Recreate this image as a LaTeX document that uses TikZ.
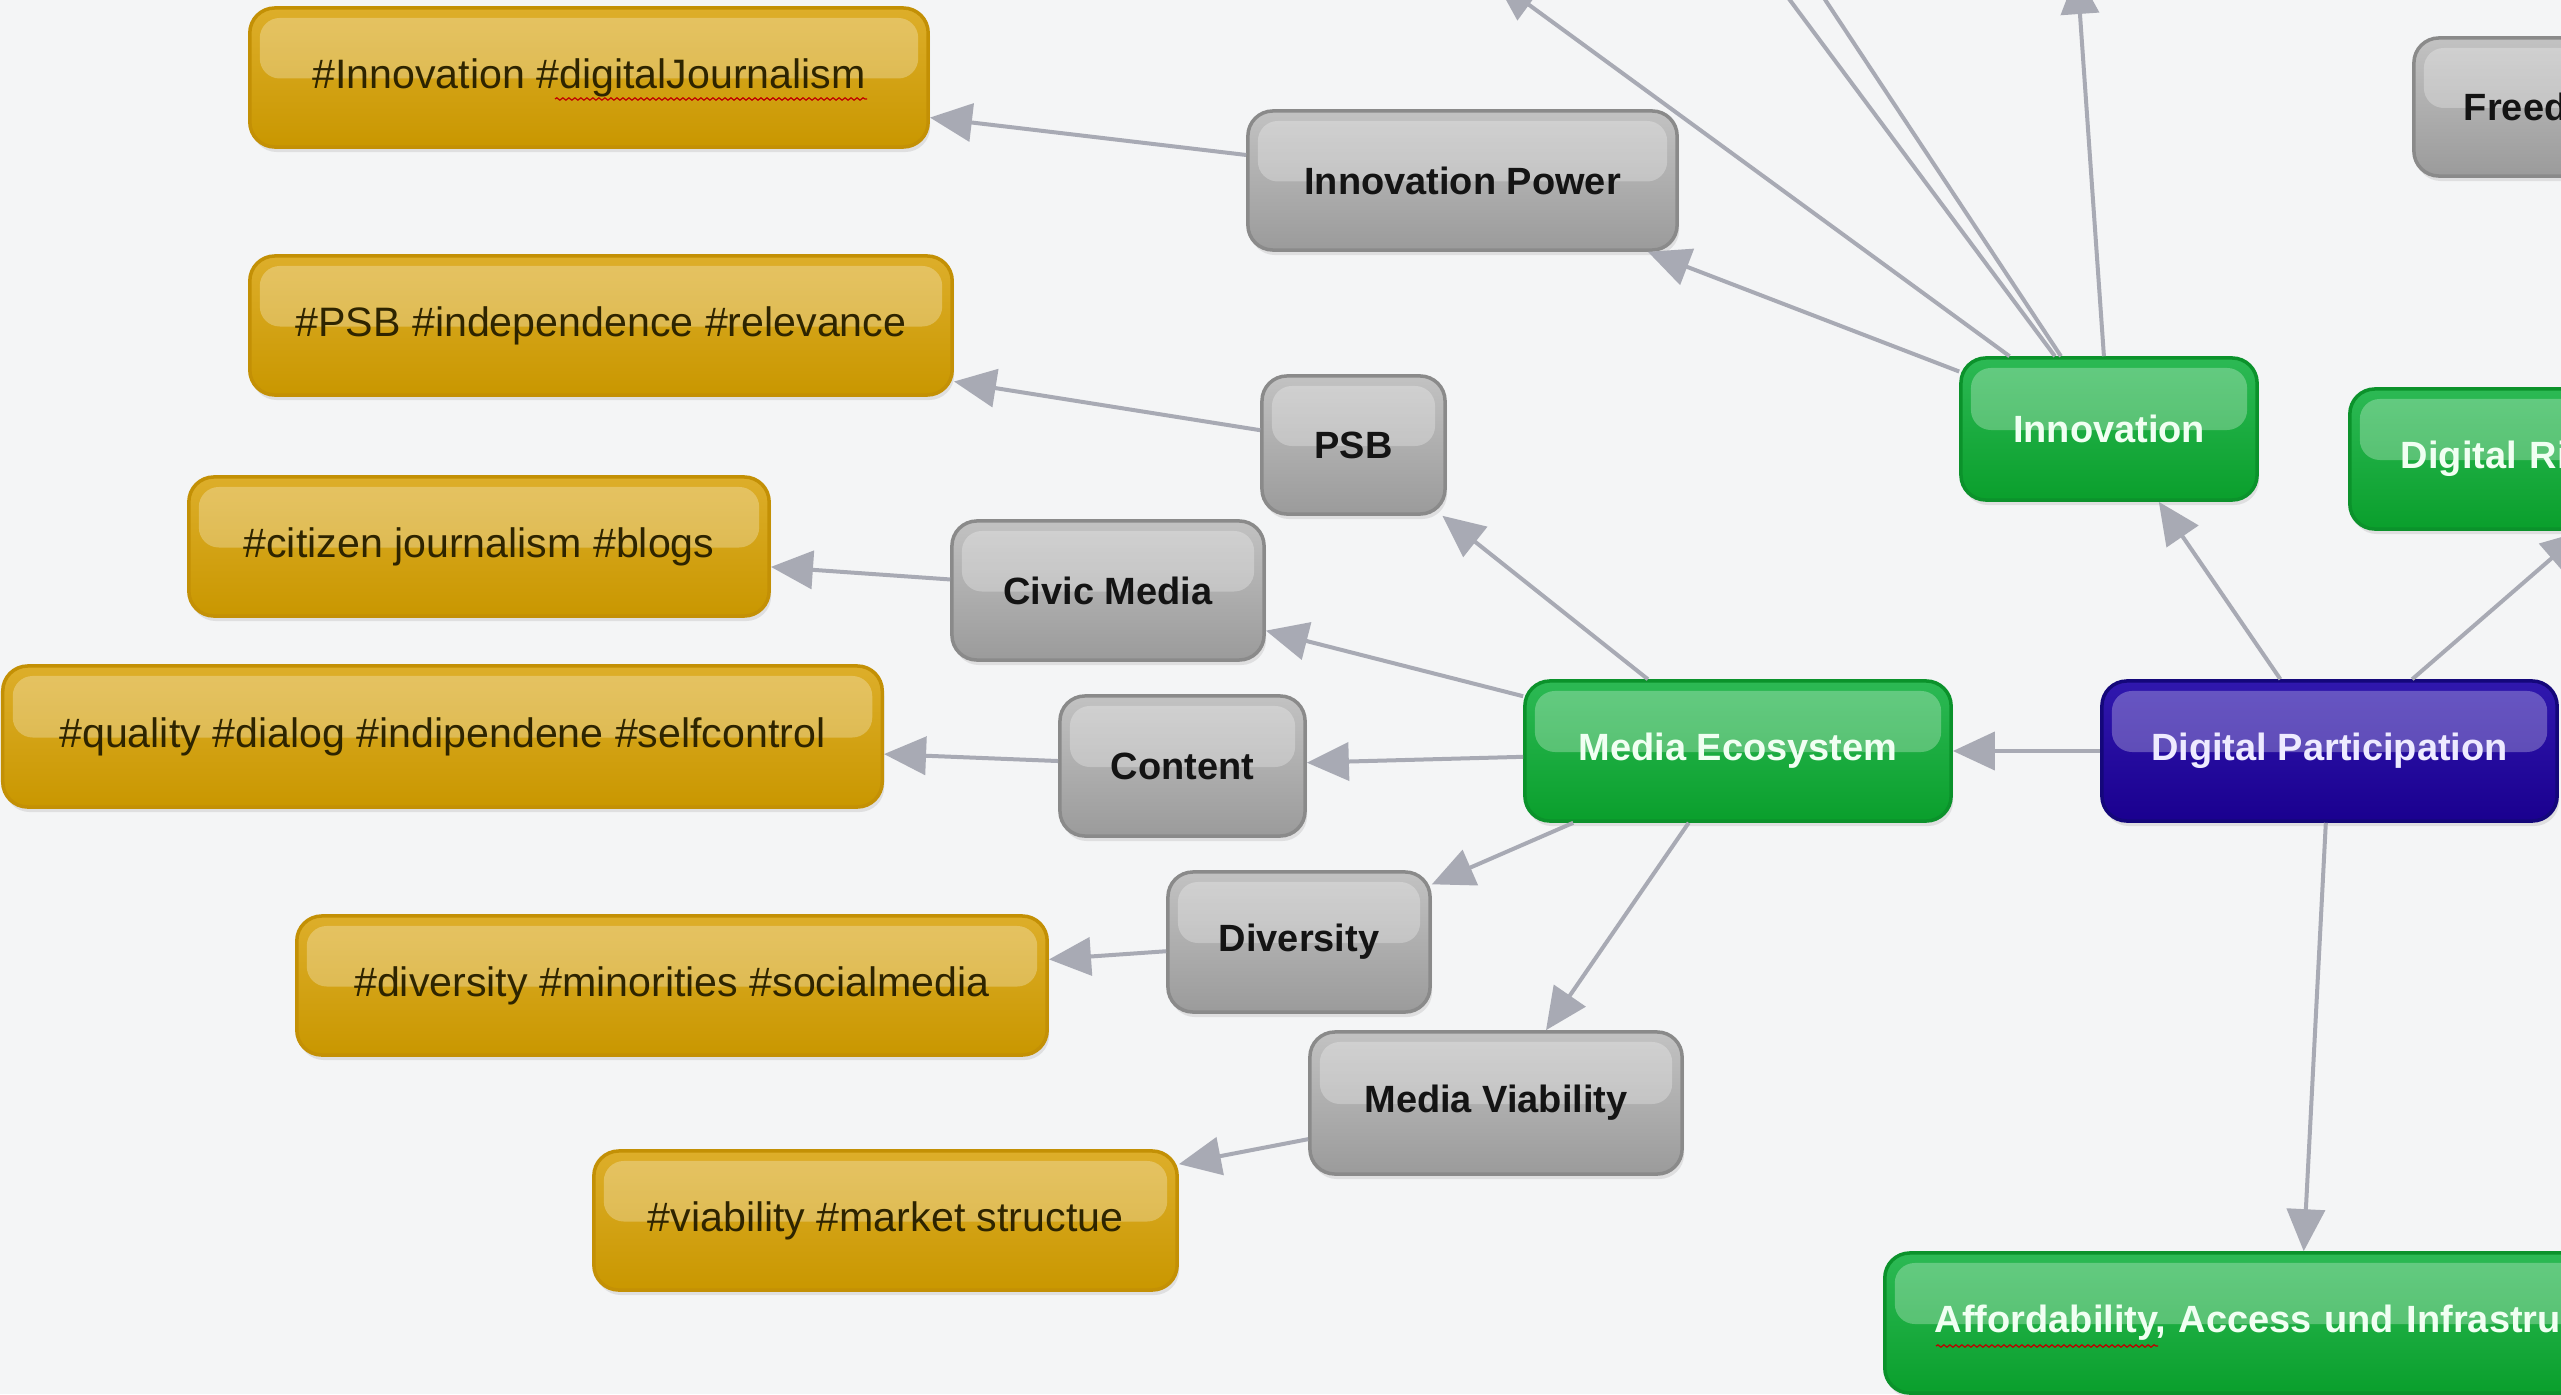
\documentclass[tikz,border=0pt]{standalone}
\usepackage{fontspec}
\setmainfont{Liberation Sans}
\usetikzlibrary{arrows.meta,shadows,decorations.pathmorphing}
\definecolor{bg}{HTML}{F4F5F6}
\definecolor{lineG}{HTML}{A8AAB4}
\definecolor{goldB}{HTML}{C39005}
\definecolor{goldT}{HTML}{DDAE2A}
\definecolor{goldBo}{HTML}{C99700}
\definecolor{tagText}{HTML}{2E2400}
\definecolor{grayB}{HTML}{8A8A8A}
\definecolor{grayT}{HTML}{C2C2C2}
\definecolor{grayBo}{HTML}{9B9B9B}
\definecolor{greenB}{HTML}{0B922B}
\definecolor{greenT}{HTML}{2CB954}
\definecolor{greenBo}{HTML}{0A9F2C}
\definecolor{greenTx}{HTML}{F0FFF2}
\definecolor{blueB}{HTML}{14077A}
\definecolor{blueT}{HTML}{3018AE}
\definecolor{blueBo}{HTML}{1A008F}
\definecolor{blueTx}{HTML}{EEEBFF}
\tikzset{
  box/.style={rounded corners=0.25cm, draw, line width=0.035cm, inner sep=0pt,
    drop shadow={shadow xshift=0.02cm, shadow yshift=-0.05cm, opacity=0.18},
    path picture={\fill[white,opacity=0.27,rounded corners=0.2cm]
      ([xshift=0.1cm,yshift=-0.1cm]path picture bounding box.north west) rectangle
      ([xshift=-0.1cm,yshift=-0.01cm]path picture bounding box.east);}},
  tagbox/.style={box, draw=goldB, top color=goldT, bottom color=goldBo, text=tagText,
    minimum height=1.39cm, font=\fontsize{11.7pt}{14pt}\selectfont},
  graybox/.style={box, draw=grayB, top color=grayT, bottom color=grayBo, text=black!92,
    minimum height=1.39cm, font=\fontsize{10.8pt}{13pt}\selectfont\bfseries},
  greenbox/.style={box, draw=greenB, top color=greenT, bottom color=greenBo, text=greenTx,
    minimum height=1.40cm, font=\fontsize{10.8pt}{13pt}\selectfont\bfseries},
  bluebox/.style={box, draw=blueB, top color=blueT, bottom color=blueBo, text=blueTx,
    minimum height=1.40cm, font=\fontsize{10.8pt}{13pt}\selectfont\bfseries},
  conn/.style={draw=lineG, line width=0.04cm, -{Triangle[length=0.42cm,width=0.38cm]}},
  squig/.style={draw=red!75!black, line width=0.012cm, decorate,
    decoration={snake, amplitude=0.012cm, segment length=0.06cm}},
}
\begin{document}
\begin{tikzpicture}[x=0.01cm,y=-0.01cm]
\useasboundingbox (0,0) rectangle (2561,1394);
\fill[bg] (0,0) rectangle (2561,1394);
\clip (0,0) rectangle (2561,1394);

% tag nodes
\node[tagbox, minimum width=6.78cm] (t1) at (589,77.5) {\#Innovation \#digitalJournalism};
\node[tagbox, minimum width=7.02cm] (t2) at (601,325.5) {\#PSB \#independence \#relevance};
\node[tagbox, minimum width=5.80cm] (t3) at (479,546.5) {\#citizen journalism \#blogs};
\node[tagbox, minimum width=8.79cm, minimum height=1.41cm] (t4) at (442.5,736.5) {\#quality \#dialog \#indipendene \#selfcontrol};
\node[tagbox, minimum width=7.50cm] (t5) at (672,985.5) {\#diversity \#minorities \#socialmedia};
\node[tagbox, minimum width=5.83cm] (t6) at (885.5,1220.5) {\#viability \#market structue};

% gray nodes
\node[graybox, minimum width=4.29cm] (ip) at (1462.5,180.5) {Innovation Power};
\node[graybox, minimum width=1.83cm, minimum height=1.38cm] (psb) at (1353.5,445) {PSB};
\node[graybox, minimum width=3.12cm] (cm) at (1108,590.5) {Civic Media};
\node[graybox, minimum width=2.45cm, minimum height=1.40cm] (ct) at (1182.5,766) {Content};
\node[graybox, minimum width=2.62cm, minimum height=1.40cm] (dv) at (1299,942) {Diversity};
\node[graybox, minimum width=3.72cm, minimum height=1.42cm] (mv) at (1496,1103) {Media Viability};
\node[graybox, minimum width=5.00cm, minimum height=1.38cm, text width=4.0cm, align=left, inner xsep=0.5cm] (fr) at (2664,107) {Freed};

% green nodes
\node[greenbox, minimum width=2.96cm, minimum height=1.42cm] (inn) at (2109,429) {Innovation};
\node[greenbox, minimum width=4.26cm] (me) at (1738,751) {Media Ecosystem};
\node[greenbox, minimum width=6.32cm, text width=5.30cm, align=left, inner xsep=0.51cm] (dr) at (2666,459) {Digital Ri};
\node[greenbox, minimum width=8.30cm, text width=7.30cm, align=left, inner xsep=0.5cm] (af) at (2300,1323) {Affordability, Access und Infrastru};

% blue node
\node[bluebox, minimum width=4.55cm] (dp) at (2329.5,751) {Digital Participation};

% off-picture targets
\coordinate (up1) at (1495,-20);
\coordinate (up2) at (1641,-200);
\coordinate (up3) at (1693,-200);
\coordinate (up4) at (2077,-28);

% connectors
\draw[conn] (ip) -- (t1);
\draw[conn] (psb) -- (t2);
\draw[conn] (cm) -- (t3);
\draw[conn] (ct) -- (t4);
\draw[conn] (dv) -- (t5);
\draw[conn] (mv) -- (t6);
\draw[conn] (me) -- (psb);
\draw[conn] (me) -- (cm);
\draw[conn] (me) -- (ct);
\draw[conn] (me) -- (dv);
\draw[conn] (me) -- (mv);
\draw[conn] (dp) -- (me);
\draw[conn] (dp) -- (inn);
\draw[conn] (dp) -- (dr);
\draw[conn] (dp) -- (af);
\draw[conn] (inn) -- (ip);
\draw[conn] (inn) -- (up1);
\draw[conn] (inn) -- (up2);
\draw[conn] (inn) -- (up3);
\draw[conn] (inn) -- (up4);

% spell-check marks
\draw[squig] (555,99) -- (867,99);
\draw[squig] (1936,1346) -- (2158,1346);
\end{tikzpicture}
\end{document}
